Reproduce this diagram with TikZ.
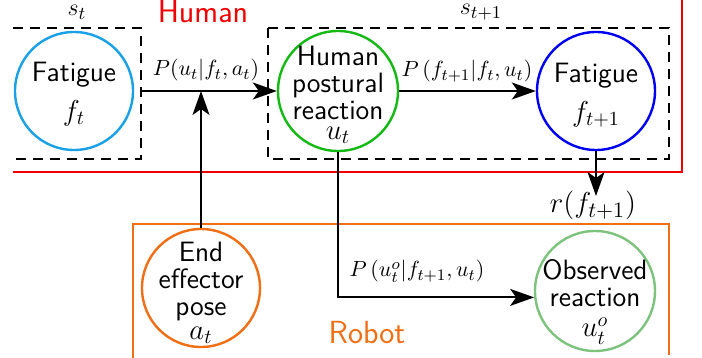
\documentclass[tikz,border=0pt]{standalone}
\usetikzlibrary{arrows.meta}
\definecolor{cfat}{RGB}{25,160,230}
\definecolor{cgreen}{RGB}{20,185,20}
\definecolor{cblue}{RGB}{0,0,240}
\definecolor{corange}{RGB}{240,110,20}
\definecolor{clight}{RGB}{125,195,125}
\definecolor{cred}{RGB}{240,0,0}
\tikzset{
  ring/.style={circle, line width=1.2pt, minimum size=#1, inner sep=0pt},
  txt/.style={align=center, inner sep=0pt, font=\fontsize{14}{13.5}\selectfont\sffamily},
  dbox/.style={dashed, dash pattern=on 5pt off 3.5pt, line width=0.9pt},
  arr/.style={line width=0.9pt, -{Stealth[length=12pt,width=8.5pt,inset=3pt]}},
  title/.style={font=\fontsize{16}{18}\selectfont\sffamily, inner sep=0pt, anchor=base},
  lbl/.style={font=\fontsize{12.5}{14}\selectfont, inner sep=0pt, anchor=base},
  mlbl/.style={font=\fontsize{11.2}{13}\selectfont, inner sep=0pt, anchor=base},
}
\begin{document}
\begin{tikzpicture}[x=0.5pt,y=-0.5pt]
\useasboundingbox (0,0) rectangle (702,358);
% region lines
\draw[cred, line width=0.9pt] (13,172) -- (682,172) -- (682,0);
\draw[corange, line width=0.9pt] (133,358) -- (133,224) -- (669,224) -- (669,355);
% dashed boxes
\draw[dbox] (13,28) -- (141,28) -- (141,159) -- (13,159);
\draw[dbox] (268,28) rectangle (669,159);
% titles
\node[title, text=cred] (human) at (203,23) {Human};
\node[title, text=corange] (robot) at (367,343) {Robot};
\node[lbl] (st) at (77,16) {$s_t$};
\node[lbl, font=\fontsize{13.2}{14}\selectfont] (st1) at (481,15) {$s_{t+1}$};
% states
\node[ring=59pt, draw=cfat] (ft) at (74,91) {};
\node[txt] (ftT) at (74,94) {Fatigue\\[6pt]$f_t$};
\node[ring=60pt, draw=cgreen] (ut) at (338,91) {};
\node[txt] (utT) at (338,95) {Human\\postural\\reaction\\[-3.5pt]$u_t$};
\node[ring=59pt, draw=cblue] (ft1) at (596,91) {};
\node[txt] (ft1T) at (596,95) {Fatigue\\[6pt]$f_{t+1}$};
\node[ring=59pt, draw=corange] (at) at (201,288) {};
\node[txt] (atT) at (201,293) {End\\effector\\pose\\[-1.5pt]$a_t$};
\node[ring=60pt, draw=clight] (obs) at (595,291) {};
\node[txt] (obsT) at (595,302) {Observed\\reaction\\[1.5pt]$u_t^o$};
% helper coordinates
\coordinate (boxr) at (141,91);
\coordinate (join) at (201,91);
\coordinate (rend) at (596,196);
% connectors
\draw[arr] (boxr) -- (ut.west);
\draw[arr] (at.north) -- (join);
\draw[arr] (ut.east) -- (ft1.west);
\draw[arr] (ft1.south) -- (rend);
\draw[arr] (ut.south) |- (obs.186);
% labels
\node[mlbl] (l1) at (206,76) {$P(u_t|f_t,a_t)$};
\node[mlbl] (l2) at (467,77) {$P\,(f_{t+1}|f_t,u_t)$};
\node[mlbl] (l3) at (417,277) {$P\,(u_t^o|f_{t+1},u_t)$};
\node[lbl, font=\fontsize{15}{16}\selectfont] (rw) at (593,213) {$r(f_{t+1})$};
\end{tikzpicture}
\end{document}
